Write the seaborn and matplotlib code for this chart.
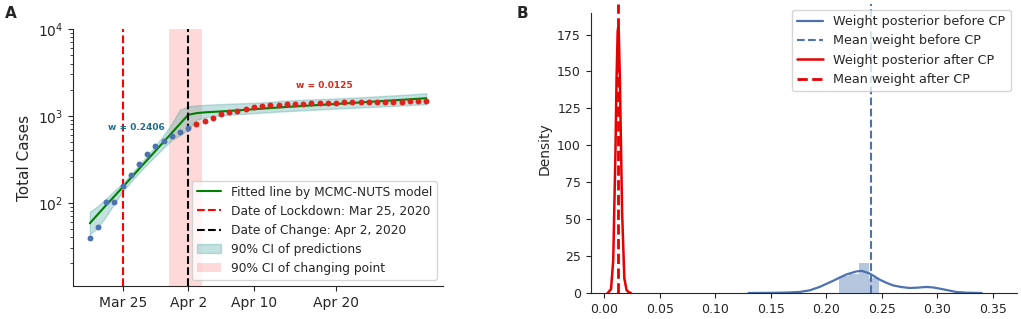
import numpy as np
import pandas as pd
import matplotlib
matplotlib.use("Agg")
import matplotlib.pyplot as plt
import seaborn as sns

# ---------------- data: panel A ----------------
dates_all = pd.date_range("2020-03-21", "2020-05-01", freq="D")
n_before = 13  # Mar 21 .. Apr 2 (before change point)

cases_before = [39, 52, 103, 103, 155, 206, 283, 366, 452, 516, 589, 649, 721]
cases_after = [809, 877, 941, 1046, 1104, 1152, 1214,
               1279, 1313, 1335, 1352, 1365, 1376, 1386, 1395, 1404, 1412, 1420,
               1427, 1433, 1439, 1444, 1449, 1454, 1459, 1464, 1469, 1474, 1480]

fitted = [58, 74, 94, 119, 151, 192, 245, 311, 395, 503, 639, 812, 1030,
          1075, 1098, 1112, 1126, 1141, 1158, 1175, 1193, 1212, 1231,
          1250, 1268, 1285, 1302, 1319, 1336, 1353, 1371, 1389, 1407,
          1430, 1450, 1470, 1490, 1510, 1530, 1552, 1574, 1597]
ci_upper = [79, 92, 112, 138, 168, 212, 272, 350, 455, 600, 820, 1180, 1290,
            1320, 1340, 1355, 1368, 1380, 1392, 1404, 1416, 1430, 1450,
            1480, 1500, 1515, 1530, 1545, 1560, 1575, 1590, 1605, 1620,
            1640, 1660, 1680, 1700, 1720, 1745, 1770, 1795, 1824]
ci_lower = [43, 52, 70, 98, 135, 174, 222, 278, 345, 430, 530, 600, 700,
            900, 960, 990, 1010, 1030, 1045, 1060, 1075, 1090, 1105,
            1120, 1133, 1146, 1159, 1172, 1185, 1198, 1211, 1224, 1237,
            1250, 1263, 1276, 1290, 1304, 1318, 1333, 1348, 1362]

lockdown_date = "2020-03-25"
change_date = "2020-04-02"
changepoint_ci = ["2020-03-30 15:00", "2020-04-03 17:00"]
w_before = 0.2406
w_after = 0.0125

xtick_dates = ["2020-03-25", "2020-04-02", "2020-04-10", "2020-04-20"]
xtick_labels = ["Mar 25", "Apr 2", "Apr 10", "Apr 20"]

# ---------------- data: panel B ----------------
blue_kde_x = [0.13, 0.15, 0.165, 0.176, 0.185, 0.194, 0.206, 0.212, 0.218, 0.227,
              0.232, 0.239, 0.2435, 0.248, 0.254, 0.26, 0.268, 0.275, 0.282,
              0.29, 0.296, 0.302, 0.31, 0.317, 0.327, 0.34]
blue_kde_y = [0.0, 0.1, 0.3, 0.7, 1.8, 4.1, 8.2, 10.4, 12.5, 14.6,
              15.0, 13.2, 11.2, 9.1, 7.0, 5.2, 4.0, 3.4, 3.6,
              4.1, 3.8, 3.0, 1.8, 0.7, 0.2, 0.0]
blue_hist_edges = [0.2115, 0.2205, 0.2295, 0.2385, 0.2475]
blue_hist_heights = [11.5, 13.0, 20.3, 10.0]

red_kde_x = [0.003, 0.006, 0.008, 0.010, 0.011, 0.012, 0.0125, 0.013, 0.014,
             0.016, 0.018, 0.020, 0.022, 0.024]
red_kde_y = [0.0, 2.5, 22, 95, 145, 177, 180, 177, 145, 55, 10, 2, 0.5, 0.0]

# ---------------- style ----------------
sns.set_style("ticks")
plt.rcParams["font.family"] = ["DejaVu Sans"]

BLUE = "#4c72b0"
RED_PT = "#e0201b"
TEAL = "#3a9e9a"
RED_B = "#e60000"

fig = plt.figure(figsize=(10.21, 3.19), dpi=100)
axA = fig.add_axes([0.0715, 0.1034, 0.3624, 0.8056])
axB = fig.add_axes([0.5786, 0.0815, 0.4174, 0.9075])

# ---------------- panel A ----------------
ci_lo, ci_hi = pd.to_datetime(changepoint_ci)
axA.axvspan(ci_lo, ci_hi, color="red", alpha=0.15, lw=0,
            label="90% CI of changing point")
axA.fill_between(dates_all, ci_lower, ci_upper, color=TEAL, alpha=0.3,
                 label="90% CI of predictions")
sns.lineplot(x=dates_all, y=fitted, color="green", lw=1.5, ax=axA,
             label="Fitted line by MCMC-NUTS model")
axA.axvline(pd.Timestamp(lockdown_date), color="red", ls="--", lw=1.5,
            label="Date of Lockdown: Mar 25, 2020")
axA.axvline(pd.Timestamp(change_date), color="black", ls="--", lw=1.5,
            label="Date of Change: Apr 2, 2020")
sns.scatterplot(x=dates_all[:n_before], y=cases_before, color=BLUE, s=18,
                linewidth=0, ax=axA, legend=False, zorder=4)
sns.scatterplot(x=dates_all[n_before:], y=cases_after, color=RED_PT, s=18,
                linewidth=0, ax=axA, legend=False, zorder=4)

axA.set_yscale("log")
axA.set_ylim(11, 1e4)
axA.set_xticks(pd.to_datetime(xtick_dates))
axA.set_xticklabels(xtick_labels)
axA.tick_params(axis="both", labelsize=10)
axA.set_xlabel("")
axA.set_ylabel("Total Cases", fontsize=11)

axA.text(pd.Timestamp("2020-03-23 05:00"), 728, f"w = {w_before}", color="#1f6e8c",
         fontsize=6.5, fontweight="bold", va="center", ha="left")
axA.text(pd.Timestamp("2020-04-15 03:00"), 2213, f"w = {w_after}", color="#d42a1c",
         fontsize=6.5, fontweight="bold", va="center", ha="left")

h, l = axA.get_legend_handles_labels()
order = ["Fitted line by MCMC-NUTS model", "Date of Lockdown: Mar 25, 2020",
         "Date of Change: Apr 2, 2020", "90% CI of predictions",
         "90% CI of changing point"]
hd = dict(zip(l, h))
axA.legend([hd[k] for k in order], order, loc="lower right", fontsize=8.8,
           frameon=True)
sns.despine(ax=axA)

# ---------------- panel B ----------------
centers = [(a + b) / 2 for a, b in zip(blue_hist_edges[:-1], blue_hist_edges[1:])]
sns.histplot(x=centers, weights=blue_hist_heights, bins=blue_hist_edges,
             color=BLUE, alpha=0.4, linewidth=0, ax=axB)
sns.lineplot(x=blue_kde_x, y=blue_kde_y, color=BLUE, lw=1.6, ax=axB,
             label="Weight posterior before CP")
axB.axvline(w_before, color=BLUE, ls="--", lw=1.5, label="Mean weight before CP")
sns.lineplot(x=red_kde_x, y=red_kde_y, color=RED_B, lw=1.8, ax=axB,
             label="Weight posterior after CP")
axB.axvline(w_after, color=RED_B, ls="--", lw=2, label="Mean weight after CP")

axB.set_xlim(-0.01225, 0.3718)
axB.set_ylim(0, 196)
axB.set_xticks(np.arange(0, 0.351, 0.05))
axB.set_xticklabels([f"{v:.2f}" for v in np.arange(0, 0.351, 0.05)])
axB.set_yticks(np.arange(0, 176, 25))
axB.tick_params(axis="both", labelsize=9)
axB.set_ylabel("Density", fontsize=10)
axB.set_xlabel("")
sns.despine(ax=axB)
axB.spines["left"].set_bounds(0, 189.5)
axB.legend(loc="upper right", fontsize=9.2, frameon=True)

fig.text(0.0049, 0.9426, "A", fontsize=11, fontweight="bold", va="baseline")
fig.text(0.506, 0.9426, "B", fontsize=11, fontweight="bold", va="baseline")

fig.savefig("out.png", dpi=100)
